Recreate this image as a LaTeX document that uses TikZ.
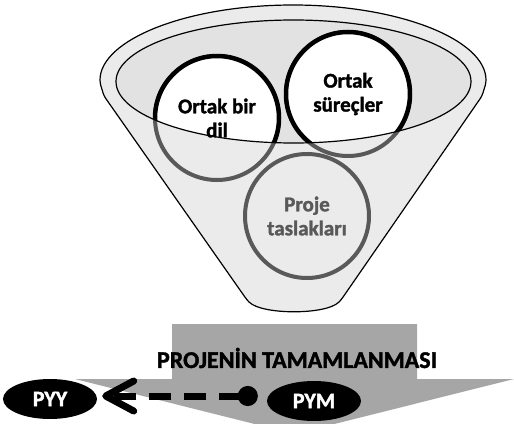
\documentclass[tikz,border=0pt]{standalone}
\usepackage{fontspec}
\setmainfont{Carlito}[BoldFont={Carlito Bold}, BoldFeatures={FakeBold=1.5}]
\usetikzlibrary{shapes.geometric,arrows.meta}

\definecolor{funnelgray}{RGB}{235,235,235}
\definecolor{innergray}{RGB}{226,226,226}
\definecolor{rimgray}{RGB}{89,89,89}
\definecolor{bannergray}{RGB}{166,166,166}

\tikzset{
	rim/.style={circle, draw=rimgray, line width=4pt, minimum size=124pt, inner sep=0pt},
	circtext/.style={align=center, font=\bfseries\fontsize{21}{24}\selectfont},
	badge/.style={ellipse, fill=black, text=white, minimum width=94pt, minimum height=40pt, inner sep=0pt, font=\bfseries\fontsize{22}{26}\selectfont},
	handoff/.style={line width=7pt, dash pattern=on 22pt off 13pt, {Circle[length=20pt]}-{Straight Barb[length=28pt,width=30pt,round]}, shorten <=9pt, shorten >=5pt}
}

\begin{document}
\begin{tikzpicture}[x=1pt, y=-1pt]
	\useasboundingbox (0,0) rectangle (514,423);
	\clip (0,0) rectangle (514,423);
	
	% Draw the big arrow at the bottom.
	\fill[bannergray] (172,324) -- (417,324) -- (417,379) -- (514,379) -- (294.5,434) -- (75,379) -- (172,379) -- cycle;
	\node[font=\bfseries\fontsize{24}{28}\selectfont] (done) at (297,358) {PROJENİN TAMAMLANMASI};
	
	% Draw the funnel.
	\draw[fill=funnelgray, line width=1.2pt, rounded corners=3pt] (100,83) arc[start angle=180, end angle=360, x radius=193, y radius=78] -- (482,96) -- (341,300) .. controls (326,315) and (262,315) .. (247,300) -- (104,96) -- cycle;
	\fill[innergray] (293.5,81.5) ellipse [x radius=177.5, y radius=61.5];
	
	% Draw the three circles.
	\node[rim] (dil) at (217,118) {};
	\node[rim] (surec) at (348,94) {};
	\node[rim] (taslak) at (307,216) {};
	
	% Re-draw the parts inside the ellipse.
	\begin{scope}
		\clip (293.5,81.5) ellipse [x radius=177.5, y radius=61.5];
		\foreach \n in {dil,surec} {
			\draw[line width=4.5pt, fill=white] (\n.center) circle (62);
		}
	\end{scope}
	\draw[line width=1.2pt] (293.5,81.5) ellipse [x radius=177.5, y radius=61.5];
	
	% Circle labels.
	\node[circtext] (diltext) at (dil) {Ortak bir\\dil};
	\node[circtext] (surectext) at (surec) {Ortak\\süreçler};
	\node[circtext, text=rimgray] (taslaktext) at (taslak) {Proje\\taslakları};
	
	% Draw the two ends and the hand-off.
	\node[badge] (pyy) at (50,399) {PYY};
	\node[badge] (pym) at (314,401) {PYM};
	\draw[handoff] ([yshift=5pt]pym.west) -- ([yshift=5pt]pym.west -| pyy.east);
	
\end{tikzpicture}
\end{document}
